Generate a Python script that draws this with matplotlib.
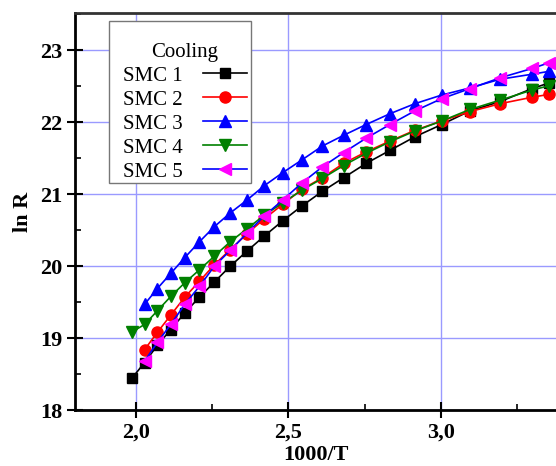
import matplotlib
matplotlib.use("Agg")
import matplotlib.pyplot as plt
from matplotlib.patches import Rectangle
from matplotlib.ticker import MultipleLocator, FuncFormatter

# 1000/T points (T = 503 ... 303, 298 K)
x_all = [1.988, 2.028, 2.070, 2.114, 2.160, 2.208, 2.257, 2.309, 2.364, 2.421, 2.481,
         2.545, 2.611, 2.681, 2.755, 2.833, 2.915, 3.003, 3.096, 3.195, 3.300, 3.356]
x_late = x_all[1:]

smc1 = [18.45, 18.66, 18.90, 19.12, 19.35, 19.57, 19.78, 20.00, 20.21, 20.42, 20.63,
        20.84, 21.04, 21.23, 21.43, 21.61, 21.80, 21.97, 22.16, 22.29, 22.47, 22.55]
smc2 = [18.84, 19.08, 19.32, 19.57, 19.79, 20.02, 20.23, 20.45, 20.66, 20.86,
        21.07, 21.23, 21.43, 21.59, 21.74, 21.89, 22.02, 22.15, 22.26, 22.35, 22.39]
smc3 = [19.47, 19.69, 19.90, 20.12, 20.34, 20.55, 20.74, 20.92, 21.12, 21.30,
        21.48, 21.67, 21.82, 21.97, 22.12, 22.26, 22.38, 22.48, 22.60, 22.67, 22.71]
smc4 = [19.09, 19.19, 19.38, 19.58, 19.77, 19.95, 20.14, 20.34, 20.52, 20.71, 20.88,
        21.06, 21.22, 21.40, 21.57, 21.73, 21.88, 22.02, 22.18, 22.31, 22.45, 22.51]
smc5 = [18.68, 18.94, 19.19, 19.47, 19.72, 20.00, 20.22, 20.46, 20.70, 20.92,
        21.16, 21.38, 21.58, 21.78, 21.97, 22.16, 22.33, 22.47, 22.62, 22.75, 22.83]

plt.rcParams['font.family'] = ['Liberation Serif', 'DejaVu Serif']

fig = plt.figure(figsize=(5.56, 4.66), dpi=100)
ax = fig.add_axes([0.135, 0.12, 0.865, 0.852])

ms = 7
ax.plot(x_all, smc1, color='black', marker='s', ms=ms, lw=1.2, label='SMC 1')
ax.plot(x_late, smc2, color='red', marker='o', ms=ms + 1, lw=1.2, label='SMC 2')
ax.plot(x_late, smc3, color='blue', marker='^', ms=ms + 1.5, lw=1.2, label='SMC 3')
ax.plot(x_all, smc4, color='green', marker='v', ms=ms + 1.5, lw=1.2, label='SMC 4')
ax.plot(x_late, smc5, color='blue', marker='<', ms=ms + 1.5, lw=1.2,
        mfc='magenta', mec='magenta', label='SMC 5')

ax.set_xlim(1.8, 3.378)
ax.set_ylim(18, 23.52)
ax.xaxis.set_major_locator(MultipleLocator(0.5))
ax.xaxis.set_minor_locator(MultipleLocator(0.25))
ax.yaxis.set_major_locator(MultipleLocator(1))
ax.yaxis.set_minor_locator(MultipleLocator(0.5))
ax.xaxis.set_major_formatter(FuncFormatter(lambda v, p: ('%.1f' % v).replace('.', ',')))
ax.yaxis.set_major_formatter(FuncFormatter(lambda v, p: '%d' % v))

ax.grid(True, which='major', color='#9a9aff', lw=1)
ax.set_axisbelow(True)

ax.tick_params(which='major', direction='inout', length=11, width=1.5,
               labelsize=16, top=False, right=False)
ax.tick_params(which='minor', direction='in', length=4, width=1.2, top=False, right=False)
for lab in ax.get_xticklabels() + ax.get_yticklabels():
    lab.set_fontweight('bold')

ax.spines['right'].set_visible(False)
for s in ['left', 'bottom', 'top']:
    ax.spines[s].set_linewidth(2)
ax.spines['top'].set_color('#333333')

ax.set_xlabel('1000/T', fontsize=16, fontweight='bold', labelpad=2)
ax.set_ylabel('ln R', fontsize=16, fontweight='bold', labelpad=5)

# legend box drawn separately (wider left margin than matplotlib's frame)
ax.add_patch(Rectangle((0.0712, 0.571), 0.294, 0.410, transform=ax.transAxes,
                       facecolor='white', edgecolor='#777777', lw=1, zorder=4))
leg = ax.legend(title='Cooling', loc='upper left', bbox_to_anchor=(0.099, 0.925),
                markerfirst=False, fontsize=15, title_fontsize=15, frameon=False,
                borderpad=0, labelspacing=0.21, handlelength=2.1,
                handletextpad=1.0, borderaxespad=0)
leg.set_zorder(5)

fig.savefig('out.png', dpi=100)
